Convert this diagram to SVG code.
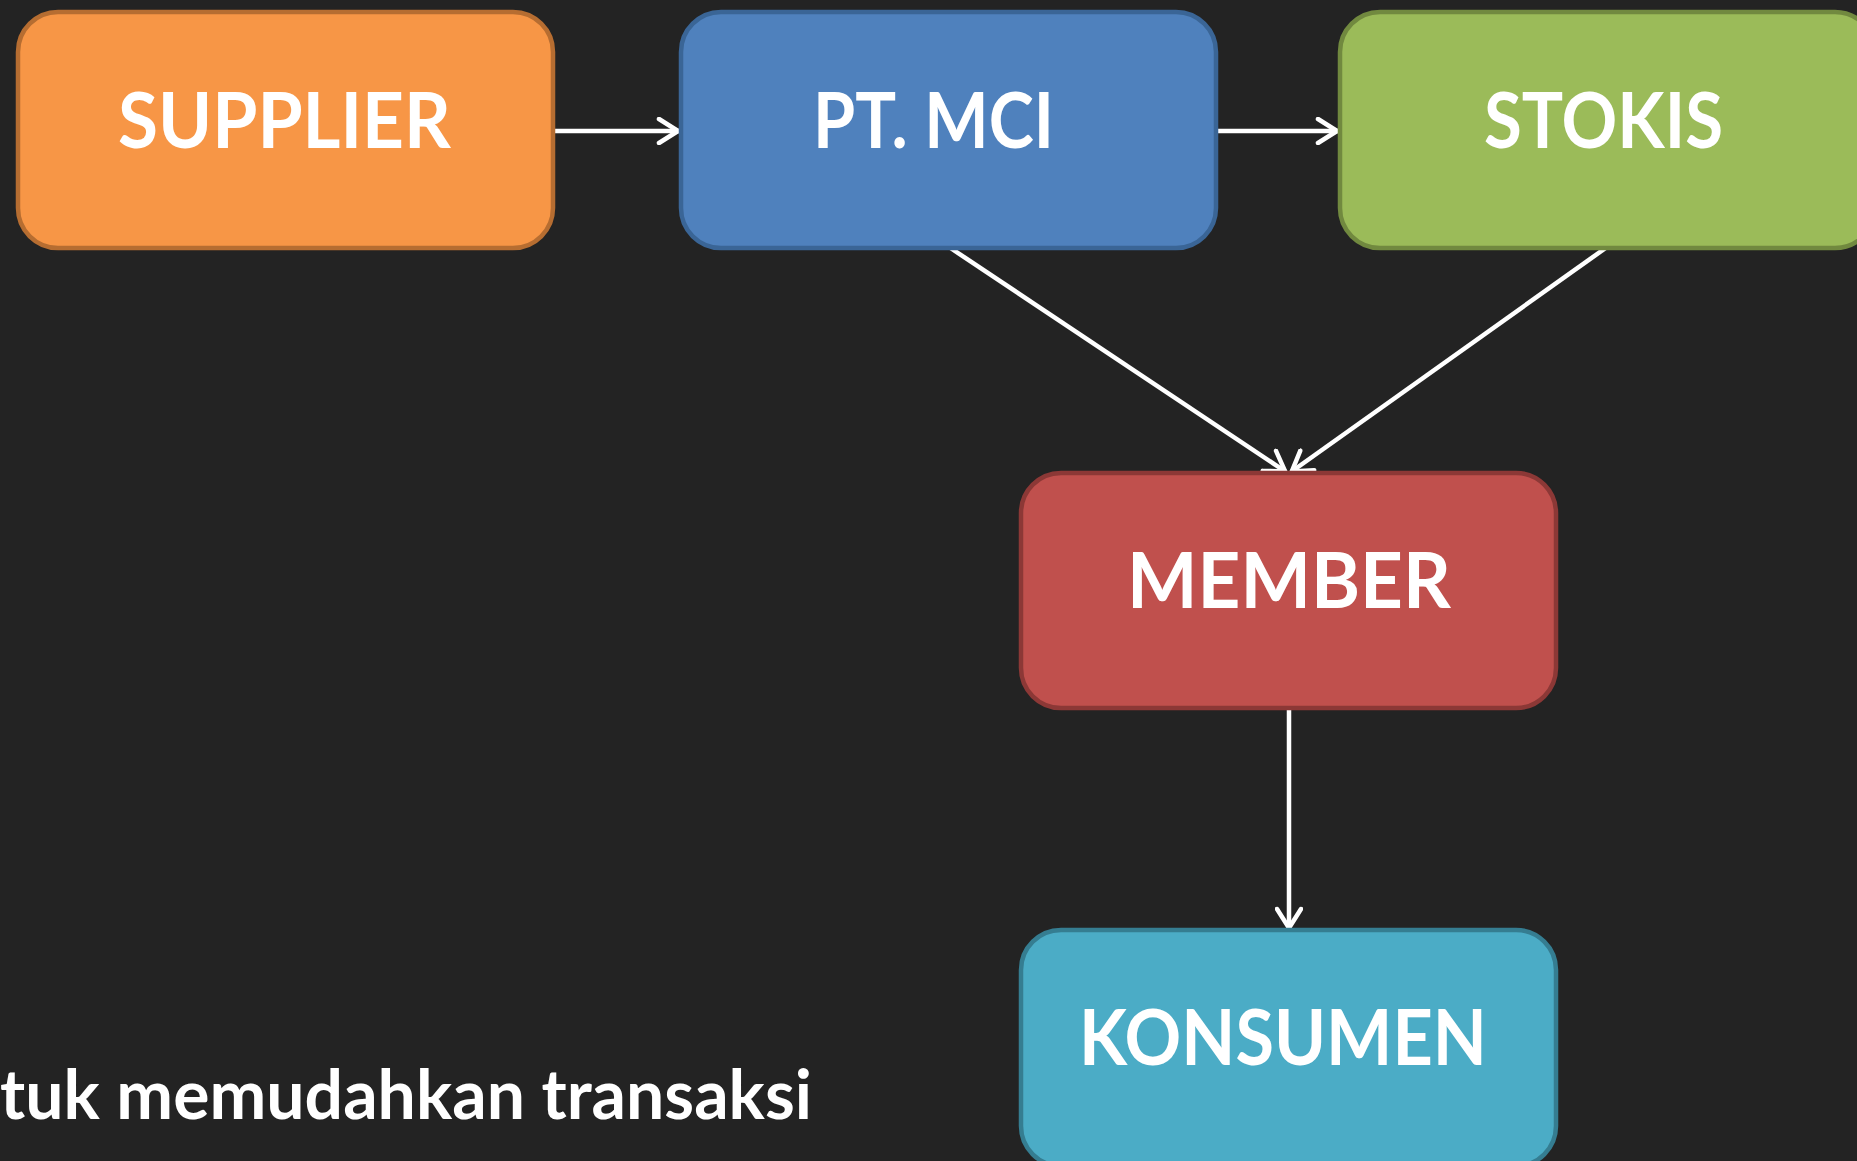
<svg xmlns="http://www.w3.org/2000/svg" width="1857" height="1161" viewBox="0 0 1857 1161">
<style>
.box{stroke-width:4.5}
.lbl{font-family:Lato,"Open Sans","Liberation Sans",sans-serif;font-weight:bold;font-size:76px;fill:#ffffff}
.con{stroke:#ffffff;stroke-width:4.5;fill:none}
.body{font-family:Lato,"Open Sans","Liberation Sans",sans-serif;font-weight:bold;font-size:68px;fill:#ffffff}
</style>
<defs>
<marker id="arr" viewBox="0 0 24 28" refX="23" refY="14" markerWidth="24" markerHeight="28" markerUnits="userSpaceOnUse" orient="auto">
<path d="M3,2 L22,14 L3,26" fill="none" stroke="#ffffff" stroke-width="4.5" stroke-linecap="round" stroke-linejoin="round"/>
</marker>
</defs>
<rect width="1857" height="1161" fill="#232323"/>
<g id="connectors">
<line class="con" x1="555" y1="131" x2="679" y2="131" marker-end="url(#arr)"/>
<line class="con" x1="1217" y1="131" x2="1338" y2="131" marker-end="url(#arr)"/>
<line class="con" x1="949" y1="247" x2="1286" y2="472" marker-end="url(#arr)"/>
<line class="con" x1="1607" y1="247" x2="1291" y2="472" marker-end="url(#arr)"/>
<line class="con" x1="1289" y1="710" x2="1289" y2="929" marker-end="url(#arr)"/>
</g>
<g id="supplier">
<rect class="box" x="18" y="12" width="535" height="236" rx="40" fill="#f79646" stroke="#b66d31"/>
<text class="lbl" x="118" y="148" textLength="333" lengthAdjust="spacingAndGlyphs">SUPPLIER</text>
</g>
<g id="ptmci">
<rect class="box" x="681" y="12" width="535" height="236" rx="40" fill="#4f81bd" stroke="#3a6596"/>
<text class="lbl" x="813" y="148" textLength="241" lengthAdjust="spacingAndGlyphs">PT. MCI</text>
</g>
<g id="stokis">
<rect class="box" x="1340" y="12" width="535" height="236" rx="40" fill="#9bbb59" stroke="#71893f"/>
<text class="lbl" x="1484" y="148" textLength="239" lengthAdjust="spacingAndGlyphs">STOKIS</text>
</g>
<g id="member">
<rect class="box" x="1021" y="473" width="535" height="235" rx="40" fill="#c0504d" stroke="#8c3836"/>
<text class="lbl" x="1127" y="608" textLength="324" lengthAdjust="spacingAndGlyphs">MEMBER</text>
</g>
<g id="konsumen">
<rect class="box" x="1021" y="930" width="535" height="236" rx="40" fill="#4bacc6" stroke="#357d91"/>
<text class="lbl" x="1079" y="1065" textLength="408" lengthAdjust="spacingAndGlyphs">KONSUMEN</text>
</g>
<text class="body" x="0" y="1119" textLength="812" lengthAdjust="spacingAndGlyphs">tuk memudahkan transaksi</text>
</svg>
